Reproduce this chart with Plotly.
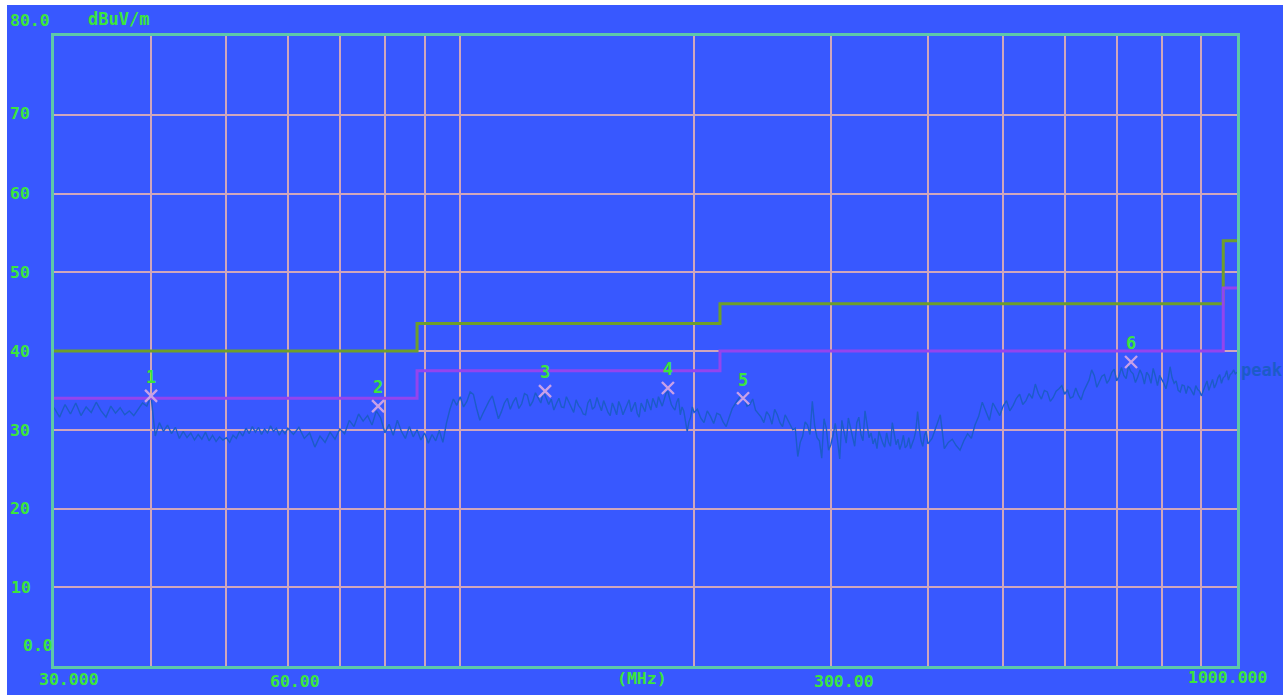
import plotly.graph_objects as go

# ---------------- data ----------------
limit_freq = [30, 88, 88, 216, 216, 960, 960, 1000]
limit_class = [40, 40, 43.5, 43.5, 46, 46, 54, 54]
limit_margin = [34, 34, 37.5, 37.5, 40, 40, 48, 48]

scan_freq = [
    30.0, 30.5, 31.0, 31.5, 32.0, 32.5, 33.0, 33.5, 34.0, 34.5, 35.0, 35.5, 36.0, 36.5, 37.0, 37.5, 38.0, 38.5, 39.0, 39.5, 40.0,
    40.5, 41.0, 41.5, 42.0, 42.5, 43.0, 43.5, 44.0, 44.5, 45.0, 45.5, 46.0, 46.5, 47.0, 47.5, 48.0, 48.5, 49.0, 49.5, 50.0,
    50.5, 51.0, 51.5, 52.0, 52.5, 53.0, 53.5, 54.0, 54.5, 55.0, 55.5, 56.0, 56.5, 57.0, 57.5, 58.0, 58.5, 59.0, 59.5, 60.0,
    61, 62, 63, 64, 65, 66, 67, 68, 69, 70,
    71, 72, 73, 74, 75, 76, 77, 78, 79, 80,
    81, 82, 83, 84, 85, 86, 87, 88, 89, 90,
    91, 92, 93, 94, 95, 96, 97, 98, 99, 100,
    101, 102, 103, 104, 105, 106, 107, 108, 109, 110,
    111, 112, 113, 114, 115, 116, 117, 118, 119, 120,
    121, 122, 123, 124, 125, 126, 127, 128, 129, 130,
    131, 132, 133, 134, 135, 136, 137, 138, 139, 140,
    141, 142, 143, 144, 145, 146, 147, 148, 149, 150,
    151, 152, 153, 154, 155, 156, 157, 158, 159, 160,
    161, 162, 163, 164, 165, 166, 167, 168, 169, 170,
    171, 172, 173, 174, 175, 176, 177, 178, 179, 180,
    181, 182, 183, 184, 185, 186, 187, 188, 189, 190,
    191, 192, 193, 194, 195, 196, 197, 198, 199, 200,
    202, 204, 206, 208, 210, 212, 214, 216, 218, 220,
    222, 224, 226, 228, 230, 232, 234, 236, 238, 240,
    242, 244, 246, 248, 250, 252, 254, 256, 258, 260,
    262, 264, 266, 268, 270, 272, 274, 276, 278, 280,
    282, 284, 286, 288, 290, 292, 294, 296, 298, 300,
    302, 304, 306, 308, 310, 312, 314, 316, 318, 320,
    322, 324, 326, 328, 330, 332, 334, 336, 338, 340,
    342, 344, 346, 348, 350, 352, 354, 356, 358, 360,
    362, 364, 366, 368, 370, 372, 374, 376, 378, 380,
    382, 384, 386, 388, 390, 392, 394, 396, 398, 400,
    405, 410, 415, 420, 425, 430, 435, 440, 445, 450,
    455, 460, 465, 470, 475, 480, 485, 490, 495, 500,
    505, 510, 515, 520, 525, 530, 535, 540, 545, 550,
    555, 560, 565, 570, 575, 580, 585, 590, 595, 600,
    605, 610, 615, 620, 625, 630, 635, 640, 645, 650,
    655, 660, 665, 670, 675, 680, 685, 690, 695, 700,
    705, 710, 715, 720, 725, 730, 735, 740, 745, 750,
    755, 760, 765, 770, 775, 780, 785, 790, 795, 800,
    805, 810, 815, 820, 825, 830, 835, 840, 845, 850,
    855, 860, 865, 870, 875, 880, 885, 890, 895, 900,
    905, 910, 915, 920, 925, 930, 935, 940, 945, 950,
    955, 960, 965, 970, 975, 980, 985, 990, 995, 1000,
]
scan_level = [
    32.8, 31.6, 33.2, 32.0, 33.4, 31.8, 32.9, 32.2, 33.5, 32.4, 31.6, 33.0, 32.1, 32.8, 31.9, 32.4, 31.8, 32.6, 33.4, 33.0, 34.3,
    29.2, 30.9, 29.8, 30.6, 29.5, 30.3, 28.9, 29.8, 29.0, 29.6, 28.7, 29.4, 28.8, 29.7, 28.6, 29.3, 28.5, 29.1, 28.7, 29.0,
    28.4, 29.3, 28.9, 29.8, 29.2, 30.2, 29.5, 30.4, 29.7, 30.3, 29.4, 30.1, 29.6, 30.5, 29.8, 30.2, 29.3, 30.0, 29.5, 30.2,
    29.4, 30.3, 28.9, 29.6, 27.8, 29.2, 28.4, 29.7, 28.8, 30.1,
    29.5, 31.2, 30.4, 32.0, 31.1, 31.8, 30.6, 32.4, 31.5, 29.6,
    30.7, 29.3, 31.2, 29.8, 28.9, 30.4, 29.1, 30.0, 28.7, 29.6,
    28.3, 29.4, 28.6, 29.9, 28.4, 30.8, 32.6, 33.9, 33.1, 34.2,
    32.9, 33.6, 34.8, 34.5, 32.7, 31.2, 32.1, 33.0, 33.7, 34.3,
    32.8, 31.4, 32.3, 33.4, 34.0, 32.6, 33.5, 34.1, 32.7, 33.3,
    34.6, 34.4, 33.0, 33.6, 34.7, 34.0, 33.4, 34.9, 34.1, 33.2,
    33.9, 32.5, 33.3, 34.0, 32.9, 32.8, 34.2, 33.5, 33.0, 32.2,
    33.8, 33.1, 32.7, 32.0, 31.9, 33.4, 33.9, 32.6, 32.9, 34.1,
    33.2, 32.4, 33.7, 33.0, 32.2, 31.8, 33.4, 32.7, 31.9, 33.6,
    32.9, 31.9, 32.6, 33.2, 33.8, 32.3, 32.9, 33.5, 32.1, 31.6,
    33.4, 32.8, 32.3, 33.9, 33.1, 32.5, 34.0, 33.3, 32.8, 34.2,
    33.6, 33.0, 33.8, 34.6, 34.9, 34.0, 33.2, 32.8, 32.5, 33.5,
    34.0, 31.9, 32.9, 32.4, 31.2, 29.8, 31.0, 31.6, 32.9, 32.2,
    32.6, 31.5, 30.9, 32.4, 31.7, 30.8, 32.1, 31.9, 31.0, 30.4,
    31.6, 32.7, 33.3, 33.8, 34.4, 34.0, 33.0, 33.2, 33.9, 32.5,
    32.0, 31.6, 30.9, 32.3, 31.8, 30.7, 32.6, 31.9, 30.9, 30.4,
    31.9, 31.2, 30.6, 30.0, 30.2, 26.6, 28.4, 29.2, 31.0, 30.6,
    29.4, 33.6, 30.5, 29.0, 28.6, 26.4, 31.4, 30.2, 27.4, 28.1,
    29.3, 30.8, 28.7, 26.3, 31.2, 29.6, 28.3, 31.5, 30.2, 28.8,
    27.9, 30.9, 31.6, 29.4, 28.6, 32.4, 30.5, 29.0, 29.6, 28.2,
    28.9, 27.6, 29.8, 28.9, 28.3, 27.8, 29.6, 28.4, 27.9, 30.9,
    29.2, 28.1, 28.8, 27.5, 28.2, 29.3, 27.7, 28.0, 29.0, 27.6,
    28.3, 28.9, 29.9, 32.3, 30.1, 28.6, 27.9, 29.3, 29.8, 28.2,
    28.9, 30.4, 31.9, 27.6, 28.4, 28.8, 28.0, 27.4, 28.6, 29.5,
    28.9, 30.6, 31.7, 33.5, 32.2, 31.2, 33.4, 32.6, 31.8, 33.0,
    33.7, 32.4, 33.1, 34.0, 34.5, 33.2, 33.7, 34.6, 34.0, 35.8,
    34.6, 33.9, 35.0, 34.8, 33.6, 34.1, 34.9, 35.2, 35.6, 34.5,
    35.1, 34.0, 34.2, 35.3, 34.4, 33.8, 34.9, 35.6, 36.3, 37.6,
    36.9, 35.4, 36.1, 36.8, 37.0, 35.9, 36.4, 37.3, 37.7, 36.2,
    36.8, 37.9, 36.9, 36.5, 38.1, 37.4, 37.1, 36.0, 36.7, 37.6,
    37.0, 35.8, 37.3, 36.9, 35.9, 37.8, 36.8, 35.6, 36.9, 36.4,
    35.9, 35.2, 36.3, 38.0, 36.6, 35.9, 36.2, 35.0, 34.8, 35.7,
    35.6, 34.6, 35.5, 35.3, 34.9, 34.4, 35.6, 35.1, 34.9, 34.3,
    35.0, 35.6, 36.2, 35.0, 35.6, 36.4, 35.3, 35.8, 36.6, 37.0,
    35.9, 36.6, 36.8, 37.5, 36.3, 37.0, 37.2, 37.6, 37.1, 37.3,
]

marker_freq = [40.0, 78.4, 128.6, 185.1, 231.3, 730.5]
marker_level = [34.3, 33.0, 34.9, 35.3, 34.0, 38.6]
marker_label = ["1", "2", "3", "4", "5", "6"]

y_grid = [10, 20, 30, 40, 50, 60, 70]
x_grid = [40, 50, 60, 70, 80, 90, 100, 200, 300, 400, 500, 600, 700, 800, 900]

y_tick_text = ["80.0", "70", "60", "50", "40", "30", "20", "10", "0.0"]
y_tick_px = [(8, 20), (8, 113), (8, 193), (8, 272), (8, 351), (8, 430), (8, 508), (9, 587), (21, 645)]
x_tick_text = ["30.000", "60.00", "(MHz)", "300.00", "1000.000"]
x_tick_px = [(37, 679), (268, 681), (615, 678), (812, 681), (1186, 677)]

# ---------------- style ----------------
BG = "#3858FF"
FRAME = "#5EC8A8"
GRID = "#D0A6BC"
TXT = "#3CE63C"
TRACE = "#1C5CC8"
GREEN_LIM = "#6E9E2A"
PURPLE_LIM = "#9444EE"
XMARK = "#C8A0E8"

W, H = 1287, 695
L, R, T, B = 54, 1237, 36, 666
FONT = "DejaVu Sans Mono"


def px_x(px):
    return (px - L) / (R - L)


def px_y(py):
    return (B - py) / (B - T)


fig = go.Figure()

fig.add_trace(go.Scatter(
    x=scan_freq, y=scan_level, mode="lines",
    line=dict(color=TRACE, width=1.4), hoverinfo="skip", showlegend=False,
))
fig.add_trace(go.Scatter(
    x=limit_freq, y=limit_class, mode="lines",
    line=dict(color=GREEN_LIM, width=3), showlegend=False,
))
fig.add_trace(go.Scatter(
    x=limit_freq, y=limit_margin, mode="lines",
    line=dict(color=PURPLE_LIM, width=3), showlegend=False,
))
fig.add_trace(go.Scatter(
    x=marker_freq, y=marker_level, mode="markers+text",
    text=marker_label, textposition="top center",
    textfont=dict(family=FONT, size=17, color=TXT, weight="bold"),
    marker=dict(symbol="x-thin", size=12, line=dict(width=2.4, color=XMARK), color=XMARK),
    showlegend=False, cliponaxis=False,
))

annotations = []
for t, (x0, y0) in zip(y_tick_text, y_tick_px):
    annotations.append(dict(
        text=t, x=px_x(x0), y=px_y(y0), xref="paper", yref="paper",
        xanchor="left", yanchor="middle", showarrow=False,
        font=dict(family=FONT, size=16.5, color=TXT, weight="bold"),
    ))
for t, (x0, y0) in zip(x_tick_text, x_tick_px):
    annotations.append(dict(
        text=t, x=px_x(x0), y=px_y(y0), xref="paper", yref="paper",
        xanchor="left", yanchor="middle", showarrow=False,
        font=dict(family=FONT, size=16.5, color=TXT, weight="bold"),
    ))
annotations.append(dict(
    text="dBuV/m", x=px_x(86), y=px_y(19), xref="paper", yref="paper",
    xanchor="left", yanchor="middle", showarrow=False,
    font=dict(family=FONT, size=17, color=TXT, weight="bold"),
))
annotations.append(dict(
    text="peak", x=px_x(1239), y=px_y(370), xref="paper", yref="paper",
    xanchor="left", yanchor="middle", showarrow=False,
    font=dict(family=FONT, size=17, color=TRACE, weight="bold"),
))

shapes = [
    dict(type="rect", xref="paper", yref="paper", layer="below",
         x0=px_x(7), x1=px_x(1283), y0=px_y(5), y1=px_y(W),
         fillcolor=BG, line=dict(width=0)),
]

fig.update_layout(
    width=W, height=H,
    margin=dict(l=L, r=W - R, t=T, b=H - B, pad=0),
    paper_bgcolor="#FFFFFF", plot_bgcolor=BG,
    showlegend=False,
    annotations=annotations, shapes=shapes,
    xaxis=dict(
        type="log", range=[1.4771213, 3.0], tickvals=x_grid,
        showticklabels=False, ticks="", showgrid=True, gridcolor=GRID, gridwidth=2,
        showline=True, linecolor=FRAME, linewidth=3, mirror=True, zeroline=False,
        fixedrange=True,
    ),
    yaxis=dict(
        range=[0, 80], tickvals=y_grid,
        showticklabels=False, ticks="", showgrid=True, gridcolor=GRID, gridwidth=2,
        showline=True, linecolor=FRAME, linewidth=3, mirror=True, zeroline=False,
        fixedrange=True,
    ),
)

fig.write_html("out.html", config={"displayModeBar": False})
